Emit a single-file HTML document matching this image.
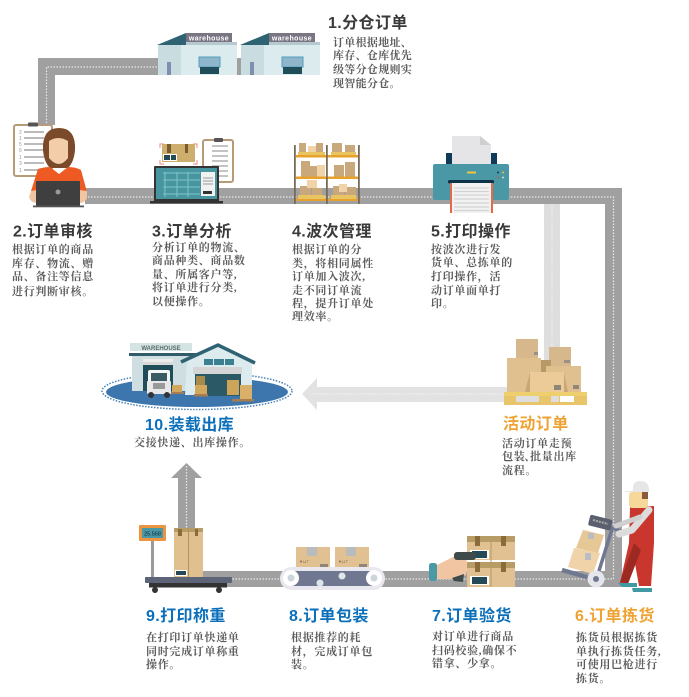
<!DOCTYPE html>
<html><head><meta charset="utf-8">
<style>
html,body{margin:0;padding:0;background:#fff;width:689px;height:697px;overflow:hidden}
svg{display:block;filter:blur(.35px)}
text{font-family:"Liberation Sans","Noto Sans CJK SC",sans-serif}
.t{font-size:16px;font-weight:700;fill:#3a3a3a;letter-spacing:.4px}
.b{font-family:"Liberation Serif","Noto Serif CJK SC",serif;font-size:11px;font-weight:700;fill:#5c5c5c;letter-spacing:.7px}
.n{letter-spacing:.3px}
.blue{fill:#0b6fba}.or{fill:#eea334}
.d{stroke:#e8e8e8;stroke-width:1.2;stroke-dasharray:1.5 1.5;fill:none}
</style></head><body>
<svg width="689" height="697" viewBox="0 0 689 697" xmlns="http://www.w3.org/2000/svg">
<defs>
<g id="wh">
<path d="M157 45L186 33V45Z" fill="#2f6374"/>
<rect x="186" y="33" width="46" height="9" fill="#7a7583"/>
<rect x="186" y="42" width="51" height="3" fill="#2f6374" opacity=".35"/>
<rect x="158" y="45" width="23" height="30" fill="#c9dcdf"/>
<rect x="181" y="45" width="56" height="30" fill="#dcebed"/>
<rect x="199" y="57" width="21" height="10" fill="#8fb5cb" stroke="#4f9fc0"/>
<rect x="200" y="67" width="19" height="7" fill="#1f4d5a"/>
<rect x="167" y="62" width="4" height="13" fill="#7f8fb0"/>
<text x="209" y="40.5" font-size="7" font-weight="700" fill="#fff" text-anchor="middle" letter-spacing=".4">warehouse</text>
</g>
<g id="lb">
<rect width="34" height="20" fill="#e1c192"/>
<rect x="11" width="10" height="9" fill="#b9bcbc"/>
<rect x="24" y="17" width="8" height="3" fill="#8f8578"/>
<text x="3" y="16" font-size="4" fill="#77624a">▼⊔⊤</text>
</g>
</defs>

<!-- roads -->
<path d="M163 58H38V125H55V75H163Z" fill="#a0a0a0"/>
<path d="M160 67H46.500V125" class="d"/>
<rect x="230" y="58" width="12" height="17" fill="#a0a0a0"/>
<path d="M85 188H622V587H203V571H605V204H85Z" fill="#a0a0a0"/>
<path d="M85 197H613.500V579H203" class="d"/>
<rect x="544" y="204" width="16" height="190" fill="#dedede"/>
<path d="M552 206V390" stroke="#f3f3f3" stroke-width="1.2" stroke-dasharray="1.500 1.500"/>
<path d="M510 387H317V378L302 394L317 410V402H510Z" fill="#e2e2e2"/>
<path d="M505 394H310" stroke="#f3f3f3" stroke-width="1.2" stroke-dasharray="1.500 1.500"/>
<path d="M178 530V478H171L186.500 463L202 478H195V530Z" fill="#a0a0a0"/>
<path d="M186.500 466V528" class="d"/>

<!-- warehouses -->
<use href="#wh"/><use href="#wh" x="83"/>

<!-- step 2 -->
<rect x="14" y="125" width="38" height="51" rx="2" fill="#fff" stroke="#b79a78" stroke-width="2"/>
<rect x="28" y="122.500" width="10" height="4" rx="1" fill="#555"/>
<g stroke="#777" stroke-width="1"><path d="M24 132H44M24 138H44M24 144H44M24 150H44M24 157H44M24 163H44M24 170H44"/></g>
<g fill="#999" font-size="5"><text x="19" y="134">2</text><text x="19" y="140">1</text><text x="19" y="146">5</text><text x="19" y="152">6</text><text x="19" y="159">1</text><text x="19" y="165">3</text><text x="19" y="172">1</text></g>
<path d="M43 150Q42 128 59 128Q76 128 75 150Q74 162 68 168H50Q44 162 43 150Z" fill="#7a4a2a"/>
<path d="M49 141Q58 135 68 141V158Q59 170 49 158Z" fill="#f3cdaa"/>
<path d="M31 191L38 169Q44 167 50 167L59 174L68 167Q76 167 81 170L87 192L80 200H38Z" fill="#ee5a24"/>
<path d="M31 191L29 197Q31 203 37 203V190ZM87 191L87 198Q85 203 79 203V190Z" fill="#f1c5a2"/>
<rect x="36" y="181" width="44" height="25" rx="1" fill="#3f3f3f"/>
<rect x="33" y="205.500" width="51" height="1.800" fill="#555"/>
<circle cx="58" cy="192" r="2.500" fill="#999"/>

<!-- step 3 -->
<rect x="203" y="140" width="30" height="42" rx="2" fill="#fff" stroke="#b79a78" stroke-width="2"/>
<rect x="214" y="138" width="9" height="4" rx="1" fill="#555"/>
<path d="M212 146H228M212 151H228M212 156H228M212 161H228M212 166H228M212 171H228M212 176H228" stroke="#888"/>
<path d="M160 148v-4h4M193 144h4v4M197 160v4h-4M164 164h-4v-4" stroke="#ef9d94" fill="none" stroke-width="1.200"/>
<rect x="162" y="144" width="33" height="18" fill="#cdae6c"/>
<rect x="167" y="144" width="4" height="9" fill="#7a5a2e"/><rect x="185" y="144" width="3" height="9" fill="#7a5a2e"/>
<rect x="163" y="154" width="14" height="7" fill="#fff"/><rect x="164" y="155" width="6" height="5" fill="#264a55"/><rect x="171" y="155" width="5" height="5" fill="#264a55"/>
<rect x="154" y="166" width="65" height="36" rx="1" fill="#333"/>
<rect x="156" y="168" width="61" height="31" fill="#47969f"/>
<path d="M163 173H200M163 180H200M163 187H200M163 194H200M165 172V197M177 172V197M188 172V197" stroke="#82c4cb" stroke-width="1"/>
<rect x="201" y="172" width="14" height="24" fill="#f2f2f2"/>
<rect x="203" y="191" width="9" height="3" fill="#333"/>
<path d="M203 178H213M203 181H213M203 184H213" stroke="#999"/>
<rect x="150" y="201" width="73" height="2.500" fill="#333"/>

<!-- shelves -->
<g>
<g fill="#c9a87c"><rect x="299" y="143" width="7" height="11"/><rect x="316" y="143" width="7" height="11"/><rect x="332" y="143" width="10" height="12"/><rect x="345" y="145" width="10" height="10"/><rect x="301" y="161" width="9" height="16"/><rect x="310" y="166" width="10" height="11"/><rect x="334" y="165" width="10" height="12"/><rect x="345" y="162" width="10" height="15"/><rect x="300" y="186" width="11" height="13"/><rect x="312" y="188" width="10" height="11"/><rect x="333" y="186" width="11" height="13"/><rect x="345" y="187" width="11" height="12"/></g>
<g fill="#f0d3a8"><rect x="308" y="146" width="8" height="8"/><rect x="317" y="165" width="8" height="12"/><rect x="307" y="180" width="10" height="8"/><rect x="339" y="184" width="8" height="8"/></g>
<g fill="#e7a22d"><rect x="296" y="155" width="62" height="2.500"/><rect x="296" y="176.500" width="62" height="2.500"/><rect x="296" y="198.500" width="62" height="2.500"/></g>
<g fill="#e9c463"><rect x="298" y="152" width="27" height="3"/><rect x="331" y="152" width="25" height="3"/><rect x="298" y="195" width="27" height="4"/><rect x="331" y="195" width="25" height="4"/></g>
<g fill="#7a6a58"><rect x="294" y="145" width="1.800" height="59"/><rect x="326" y="145" width="1.800" height="59"/><rect x="358" y="145" width="1.800" height="59"/></g>
</g>

<!-- printer -->
<path d="M452 136H480L491 145V165H452Z" fill="#e5e5e7"/><path d="M480 136L491 145H480Z" fill="#cfcfd2"/>
<rect x="446" y="153" width="6" height="12" fill="#0f3a58"/><rect x="491" y="153" width="6" height="12" fill="#0f3a58"/>
<rect x="433" y="164" width="76" height="36" rx="2" fill="#4a98a6"/>
<rect x="467" y="171.500" width="9" height="2" fill="#f0c63c"/>
<circle cx="498" cy="172.500" r="1" fill="#0f3a58"/><circle cx="503" cy="172.500" r="1" fill="#e8c53e"/><circle cx="498" cy="177.500" r="1" fill="#b5654c"/><circle cx="503" cy="177.500" r="1" fill="#c5dde0"/>
<rect x="448" y="180" width="46" height="3.500" rx="1.500" fill="#0e3248"/>
<rect x="450" y="183" width="43" height="30" fill="#e8694a"/>
<rect x="452" y="183" width="39" height="30" fill="#f2f2f2"/>
<path d="M454 188H489M454 191.500H489M454 195H489M454 199H489M454 203H489M454 207H489M454 210.500H489" stroke="#d4d4d4" stroke-width="1.200"/>

<!-- warehouse 10 -->
<ellipse cx="197" cy="391" rx="95" ry="18.500" fill="none" stroke="#4a80b5" stroke-width="1.500" stroke-dasharray="1.500 1.500"/>
<ellipse cx="197" cy="392" rx="91" ry="15" fill="#3d76ad"/>
<rect x="130" y="343" width="62" height="8" fill="#d4e4e2"/>
<text x="161" y="350" font-size="6" font-weight="700" fill="#5a6a6a" text-anchor="middle">WAREHOUSE</text>
<rect x="129" y="353" width="70" height="3" fill="#2f5b6b"/>
<rect x="132" y="356" width="66" height="35" fill="#cfdfe1"/>
<rect x="143" y="359" width="30" height="3" fill="#ececec"/><rect x="143" y="362" width="30" height="3" fill="#d8d8d8"/>
<rect x="143" y="365" width="30" height="26" fill="#1f4d5a"/>
<path d="M187 360L218 345L252 361V395H185Z" fill="#dcebed"/>
<path d="M181 362L218 345L255 363" fill="none" stroke="#2f6374" stroke-width="3.500"/>
<rect x="204" y="359" width="9" height="6" fill="#3a8090"/><rect x="214" y="359" width="10" height="6" fill="#3a8090"/><rect x="225" y="359" width="9" height="6" fill="#3a8090"/>
<rect x="193" y="367" width="49" height="7" fill="#d5d5d5"/>
<rect x="195" y="374" width="46" height="22" fill="#2b5a66"/>
<rect x="196" y="376" width="9" height="18" fill="#a88b4a"/><rect x="195" y="385" width="12" height="10" fill="#d2a85e"/>
<rect x="227" y="380" width="12" height="15" fill="#cca45a"/><rect x="240" y="385" width="12" height="14" fill="#d8b06a"/>
<rect x="232" y="399" width="22" height="2.500" fill="#a67c52"/>
<rect x="194" y="394" width="14" height="2.500" fill="#a67c52"/>
<rect x="172" y="385" width="10" height="7" fill="#d2a85e"/><rect x="171" y="392" width="13" height="2" fill="#a67c52"/>
<rect x="148" y="370" width="22" height="21" rx="2" fill="#f5f5f5"/>
<rect x="151" y="373" width="16" height="8" fill="#3a5a64"/>
<rect x="147" y="381" width="24" height="13" rx="1" fill="#e8e8e8"/>
<rect x="153" y="383" width="12" height="6" fill="#999"/>
<circle cx="151" cy="395" r="3" fill="#333"/><circle cx="167" cy="395" r="3" fill="#333"/>

<!-- activity boxes -->
<g fill="#d6b88c"><rect x="516" y="339" width="22" height="19"/><rect x="549" y="347" width="22" height="19"/></g>
<rect x="541" y="360" width="10" height="14" fill="#b79968"/>
<rect x="507" y="358" width="34" height="34" fill="#e0c08f"/>
<rect x="546" y="366" width="35" height="26" fill="#e0c08f"/>
<path d="M525 392L530 372H564L568 392Z" fill="#c9a875"/>
<rect x="530" y="372" width="34" height="20" fill="#eccb98"/>
<rect x="554" y="385" width="7" height="5" fill="#8f8578"/><rect x="573" y="385" width="6" height="4" fill="#8f8578"/><rect x="534" y="352" width="4" height="3" fill="#9a9088"/><rect x="564" y="360" width="6" height="3" fill="#9a9088"/>
<rect x="504" y="392" width="83" height="4" fill="#edcf6e"/>
<rect x="504" y="396" width="83" height="9" fill="#e8c56a"/>
<rect x="516" y="396" width="23" height="6" fill="#dedede"/><rect x="551" y="396" width="8" height="6" fill="#dedede"/><rect x="560" y="396" width="14" height="6" fill="#fff"/>

<!-- scale -->
<rect x="139" y="525" width="27" height="16" rx="1" fill="#ec9440"/>
<rect x="142" y="528" width="21" height="10" fill="#4a98a6"/>
<text x="152.500" y="535.500" font-size="5.500" fill="#123" text-anchor="middle">25.568</text>
<rect x="151" y="541" width="3" height="37" fill="#9a9a9a"/>
<rect x="174" y="528" width="29" height="49" fill="#e0c08f"/>
<rect x="174" y="528" width="29" height="4" fill="#b89c66"/>
<rect x="178" y="529" width="4" height="7" fill="#8a6b3a"/><rect x="195" y="529" width="3" height="7" fill="#8a6b3a"/>
<path d="M188.500 528V577" stroke="#ad9458"/>
<rect x="175" y="570" width="12" height="6" fill="#fff"/><rect x="176" y="571" width="10" height="4" fill="#264a55"/>
<rect x="145" y="577" width="87" height="6" rx="1" fill="#5d6478"/>
<rect x="149" y="583" width="78" height="4.500" fill="#333"/>
<circle cx="155" cy="590" r="3" fill="#333"/><circle cx="219" cy="590" r="3" fill="#333"/>

<!-- conveyor -->
<rect x="280" y="567" width="105" height="23" rx="11.500" fill="#e8e8ee"/>
<rect x="285" y="571" width="95" height="15" rx="7.500" fill="#6f7890"/>
<circle cx="291" cy="578" r="8" fill="#fff"/><circle cx="291" cy="578" r="3.500" fill="#ccd5dc"/>
<circle cx="374" cy="578" r="8" fill="#fff"/><circle cx="374" cy="578" r="3.500" fill="#ccd5dc"/>
<circle cx="342" cy="576" r="3.500" fill="#dfe6ea"/><circle cx="320" cy="583" r="3.500" fill="#dfe6ea"/>
<use href="#lb" x="296" y="547"/><use href="#lb" x="335" y="547"/>

<!-- scan -->
<rect x="467" y="536" width="48" height="24" fill="#e1c192"/><rect x="467" y="536" width="48" height="6" fill="#b89c66"/><rect x="475" y="536" width="5" height="10" fill="#8a6b3a"/><rect x="501" y="536" width="5" height="10" fill="#8a6b3a"/>
<rect x="467" y="562" width="48" height="25" fill="#e1c192"/><rect x="467" y="562" width="48" height="6" fill="#b89c66"/><rect x="475" y="562" width="5" height="10" fill="#8a6b3a"/><rect x="501" y="562" width="5" height="10" fill="#8a6b3a"/>
<path d="M491 536V587" stroke="#b29a62"/>
<rect x="470" y="550" width="19" height="9" fill="#fff"/><rect x="472" y="551" width="15" height="7" fill="#264a55"/>
<rect x="470" y="576" width="19" height="9" fill="#fff"/><rect x="472" y="577" width="15" height="7" fill="#264a55"/>
<rect x="429" y="563" width="8" height="18" rx="2.500" fill="#4a9aa5"/>
<path d="M437 565L455 556H466Q468 566 466 575L454 579H437Z" fill="#f1c5a2"/>
<rect x="454" y="552" width="22" height="8" rx="3" fill="#3f4a4a"/>
<path d="M452 578L464 574L463 582L454 581Z" fill="#3f4a4a"/>

<!-- trolley -->
<path d="M583 530L604 535L598 553L576 548Z" fill="#e6c796"/>
<path d="M574 548L600 553L593 574L568 567Z" fill="#f0d3a8"/>
<rect x="588" y="533" width="6" height="6" fill="#b8bec4"/><rect x="585" y="553" width="6" height="7" fill="#b8bec4"/>
<path d="M612 529L598 574" stroke="#6f7890" stroke-width="3.500"/>
<path d="M606 526L621 531" stroke="#6f7890" stroke-width="3.500" stroke-linecap="round"/>
<path d="M562 570L590 578" stroke="#6f7890" stroke-width="4.500"/>
<rect x="589" y="517" width="23" height="11" rx="2" fill="#5a6070" transform="rotate(14 600 522)"/>
<path d="M593 520L608 524" stroke="#aaa" stroke-width="2" stroke-dasharray="2 1"/>
<circle cx="596" cy="579" r="8.500" fill="#e4e6ec"/><circle cx="596" cy="579" r="3" fill="#6f7890"/>

<!-- worker -->
<path d="M630 507L654 506V543H629Z" fill="#c9362e"/>
<path d="M629 543H654L651 586H639L634 558L627 583H620Z" fill="#c9362e"/>
<path d="M634 543L620 582L628 584L641 550Z" fill="#9c2a22"/>
<path d="M649 510L632 530L619 534" fill="none" stroke="#dcdcdc" stroke-width="7" stroke-linecap="round" stroke-linejoin="round"/>
<path d="M640 517L616 526" fill="none" stroke="#cfcfcf" stroke-width="5" stroke-linecap="round"/>
<rect x="629" y="492" width="19" height="16" rx="3" fill="#f6d89a"/>
<rect x="642" y="492" width="6" height="7" fill="#8b5a3a"/>
<path d="M625 491H633Q632 481 640 481Q650 481 649 492H626Z" fill="#e6e6e6"/>
<path d="M618 583H637V587L622 587ZM632 588H652V592H633Z" fill="#3f9aa3"/>

<!-- text -->
<text class="t" x="328" y="28">1.分仓订单</text>
<text class="b n" x="333" y="46">订单根据地址、</text><text class="b n" x="333" y="59">库存、仓库优先</text><text class="b n" x="333" y="73">级等分仓规则实</text><text class="b n" x="333" y="87">现智能分仓。</text>

<text class="t" x="13" y="236.500">2.订单审核</text>
<text class="b" x="12" y="253">根据订单的商品</text><text class="b" x="12" y="267">库存、物流、赠</text><text class="b" x="12" y="280">品、备注等信息</text><text class="b" x="12" y="295">进行判断审核。</text>

<text class="t" x="152" y="236.500">3.订单分析</text>
<text class="b" x="152" y="251">分析订单的物流、</text><text class="b" x="152" y="264">商品种类、商品数</text><text class="b" x="152" y="278">量、所属客户等,</text><text class="b" x="152" y="291">将订单进行分类,</text><text class="b" x="152" y="305">以便操作。</text>

<text class="t" x="292" y="236.500">4.波次管理</text>
<text class="b" x="292" y="253">根据订单的分</text><text class="b" x="292" y="267">类，将相同属性</text><text class="b" x="292" y="280">订单加入波次,</text><text class="b" x="292" y="294">走不同订单流</text><text class="b" x="292" y="307">程，提升订单处</text><text class="b" x="292" y="320">理效率。</text>

<text class="t" x="431" y="236.500">5.打印操作</text>
<text class="b" x="431" y="253">按波次进行发</text><text class="b" x="431" y="266">货单、总拣单的</text><text class="b" x="431" y="280">打印操作，活</text><text class="b" x="431" y="294">动订单面单打</text><text class="b" x="431" y="307">印。</text>

<text class="t or" x="503" y="429">活动订单</text>
<text class="b" x="502" y="447">活动订单走预</text><text class="b" x="502" y="460">包装<tspan dx="-1">、</tspan><tspan dx="-6">批量出库</tspan></text><text class="b" x="502" y="474">流程。</text>

<text class="t blue" x="145" y="430">10.装载出库</text>
<text class="b" x="134" y="446">交接快递、出库操作。</text>

<text class="t blue" x="146" y="621">9.打印称重</text>
<text class="b" x="146" y="641">在打印订单快递单</text><text class="b" x="146" y="655">同时完成订单称重</text><text class="b" x="146" y="668">操作。</text>

<text class="t blue" x="289" y="621">8.订单包装</text>
<text class="b" x="291" y="641">根据推荐的耗</text><text class="b" x="291" y="655">材，完成订单包</text><text class="b" x="291" y="668">装。</text>

<text class="t blue" x="432" y="621">7.订单验货</text>
<text class="b" x="432" y="640">对订单进行商品</text><text class="b" x="432" y="654">扫码校验,确保不</text><text class="b" x="432" y="667">错拿、少拿。</text>

<text class="t or" x="575" y="621">6.订单拣货</text>
<text class="b" x="576" y="641">拣货员根据拣货</text><text class="b" x="576" y="655">单执行拣货任务,</text><text class="b" x="576" y="668">可使用巴枪进行</text><text class="b" x="576" y="682">拣货。</text>
</svg>
</body></html>
